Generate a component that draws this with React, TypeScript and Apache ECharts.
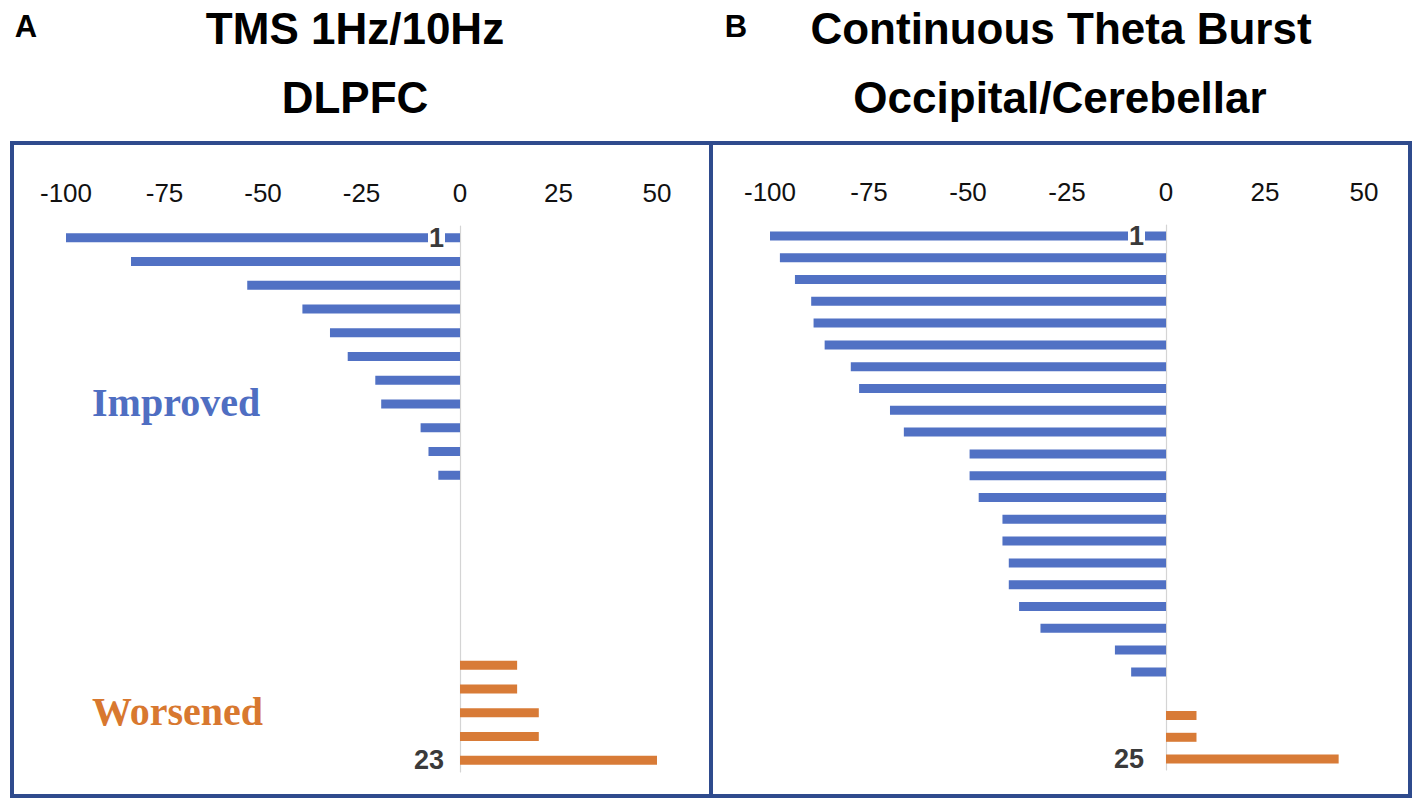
import React, { useEffect, useRef } from "react";
import * as echarts from "echarts";

// Panel A: TMS 1Hz/10Hz DLPFC (23 patients)
const tmsCategories = ["1", "2", "3", "4", "5", "6", "7", "8", "9", "10", "11", "12", "13", "14", "15", "16", "17", "18", "19", "20", "21", "22", "23"];
const tmsValues = [-100, -83.5, -54, -40, -33, -28.5, -21.5, -20, -10, -8, -5.5, 0, 0, 0, 0, 0, 0, 0, 14.5, 14.5, 20, 20, 50];

// Panel B: Continuous Theta Burst Occipital/Cerebellar (25 patients)
const ctbCategories = ["1", "2", "3", "4", "5", "6", "7", "8", "9", "10", "11", "12", "13", "14", "15", "16", "17", "18", "19", "20", "21", "22", "23", "24", "25"];
const ctbValues = [-100, -97.5, -93.7, -89.6, -89, -86.2, -79.6, -77.5, -69.7, -66.2, -49.6, -49.6, -47.3, -41.3, -41.3, -39.7, -39.7, -37.1, -31.7, -12.9, -8.8, 0, 7.7, 7.7, 43.6];

const xMin = -100;
const xMax = 50;
const xInterval = 25;

const BLUE = "#5171c4";
const ORANGE = "#d87b37";
const FRAME = "#2f4b8d";

const SANS = '"Liberation Sans", Arial, sans-serif';
const SERIF = '"Liberation Serif", "Times New Roman", serif';

function makeYAxis(gridIndex: number, cats: string[]) {
  return {
    type: "category",
    gridIndex,
    inverse: true,
    data: cats,
    axisLine: { show: true, onZero: true, lineStyle: { color: "#d4d4d4", width: 1.2 } },
    axisTick: { show: false },
    splitLine: { show: false },
    axisLabel: { show: false },
  };
}

function makeXAxis(gridIndex: number) {
  return {
    type: "value",
    gridIndex,
    position: "top",
    min: xMin,
    max: xMax,
    interval: xInterval,
    axisLine: { show: false },
    axisTick: { show: false },
    splitLine: { show: false },
    axisLabel: {
      fontSize: 26,
      color: "#111111",
      fontFamily: SANS,
      margin: 20,
    },
  };
}

function makeSeries(idx: number, values: number[]) {
  return {
    type: "bar",
    xAxisIndex: idx,
    yAxisIndex: idx,
    barWidth: 9,
    silent: true,
    data: values,
    itemStyle: {
      color: (p: any) => (p.value < 0 ? BLUE : ORANGE),
    },
  };
}

// first and last patient numbers, written next to the zero line
function makeEndLabels(idx: number, cats: string[], distance: number) {
  return {
    type: "scatter",
    xAxisIndex: idx,
    yAxisIndex: idx,
    symbolSize: 0,
    silent: true,
    z: 6,
    itemStyle: { opacity: 1 },
    data: [
      [0, cats[0]],
      [0, cats[cats.length - 1]],
    ],
    label: {
      show: true,
      position: "left",
      distance,
      formatter: (p: any) => p.value[1],
      fontSize: 27,
      fontWeight: "bold",
      color: "#3a3a3a",
      opacity: 1,
      fontFamily: SANS,
      backgroundColor: "#ffffff",
      padding: [0, 1, 0, 1],
    },
  };
}

function txt(text: string, x: number, y: number, size: number, color: string, family: string, align = "center") {
  return {
    type: "text",
    x,
    y,
    silent: true,
    style: {
      text,
      fill: color,
      fontSize: size,
      fontWeight: "bold",
      fontFamily: family,
      align,
      verticalAlign: "middle",
      textAlign: align,
      textVerticalAlign: "middle",
    },
  };
}

export default function App() {
  const ref = useRef<HTMLDivElement>(null);
  useEffect(() => {
    if (!ref.current) return;
    const chart = echarts.init(ref.current, undefined, { renderer: "svg" });
    chart.setOption({
      animation: false,
      backgroundColor: "#ffffff",
      grid: [
        { left: 66, top: 226, width: 591, height: 546 },
        { left: 770, top: 225, width: 594, height: 545 },
      ],
      xAxis: [makeXAxis(0), makeXAxis(1)],
      yAxis: [makeYAxis(0, tmsCategories), makeYAxis(1, ctbCategories)],
      series: [
        makeSeries(0, tmsValues),
        makeSeries(1, ctbValues),
        makeEndLabels(0, tmsCategories, 15),
        makeEndLabels(1, ctbCategories, 21),
      ],
      graphic: [
        {
          type: "rect",
          silent: true,
          z: 100,
          shape: { x: 12, y: 143, width: 699, height: 653 },
          style: { fill: "none", stroke: FRAME, lineWidth: 4 },
        },
        {
          type: "rect",
          silent: true,
          z: 100,
          shape: { x: 711, y: 143, width: 699, height: 653 },
          style: { fill: "none", stroke: FRAME, lineWidth: 4 },
        },
        txt("A", 26, 26, 31, "#000000", SANS),
        txt("TMS 1Hz/10Hz", 355, 28, 44, "#000000", SANS),
        txt("DLPFC", 355, 97, 44, "#000000", SANS),
        txt("B", 736, 26, 31, "#000000", SANS),
        txt("Continuous Theta Burst", 1061, 28, 44, "#000000", SANS),
        txt("Occipital/Cerebellar", 1060, 97, 44, "#000000", SANS),
        txt("Improved", 92, 402, 40, "#4f6ec2", SERIF, "left"),
        txt("Worsened", 92, 711, 40, "#d8782f", SERIF, "left"),
      ],
    });
    return () => chart.dispose();
  }, []);
  return (
    <div
      ref={ref}
      style={{ position: "absolute", left: 0, top: 0, width: 1417, height: 811 }}
    />
  );
}
